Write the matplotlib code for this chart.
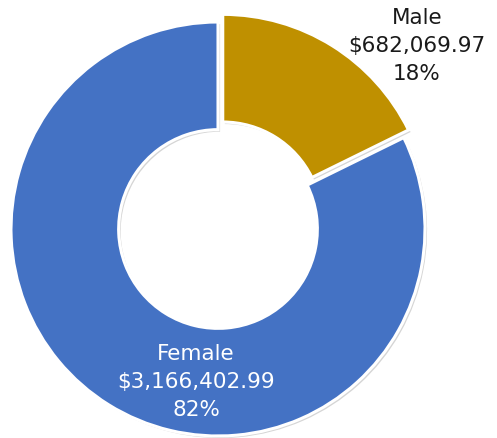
import matplotlib.pyplot as plt
import matplotlib.patheffects as pe

genders = ["Male", "Female"]
amounts = [682069.97, 3166402.99]
colors = ["#BF9000", "#4472C4"]

plt.rcParams['font.family'] = ['DejaVu Sans']

fig = plt.figure(figsize=(4.97, 4.38), dpi=100)
ax = fig.add_axes([0, 0, 1, 1])

cx, cy, r = 218, -229, 207
wedges, _ = ax.pie(amounts, colors=colors, startangle=90, counterclock=False,
                   center=(cx, cy), radius=r, explode=[9, 0], frame=True,
                   wedgeprops=dict(width=r * 0.52, edgecolor='white', linewidth=2.2))
for w in wedges:
    w.set_path_effects([pe.SimplePatchShadow(offset=(1.5, -1.5), shadow_rgbFace='#888888', alpha=0.35),
                        pe.Normal()])
ax.set_xlim(0, 497)
ax.set_ylim(-438, 0)
ax.set_aspect('equal')
ax.axis('off')

total = sum(amounts)
def label(i):
    return f"{genders[i]}\n${amounts[i]:,.2f}\n{amounts[i] / total:.0%}"

ax.text(417, -46, label(0), ha='center', va='center', fontsize=15.5,
        color='#1a1a1a', linespacing=1.5)
ax.text(196, -382, label(1), ha='center', va='center', fontsize=15.5,
        color='white', linespacing=1.5)

fig.savefig('out.png', dpi=100)
